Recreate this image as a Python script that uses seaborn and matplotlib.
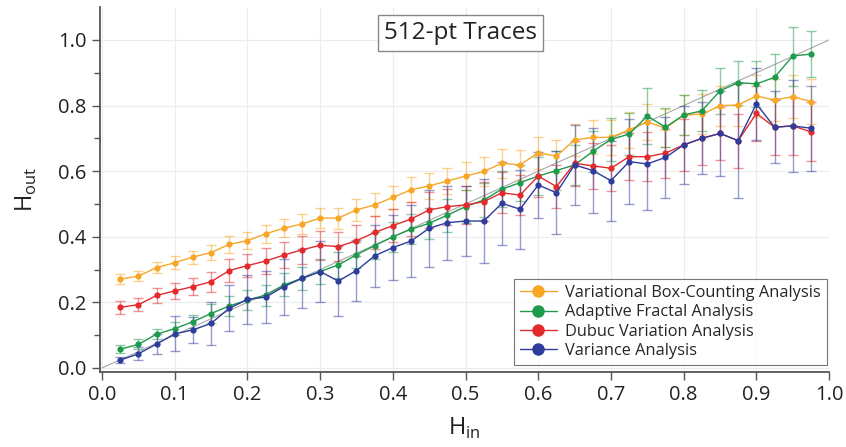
import numpy as np
import pandas as pd
import matplotlib
matplotlib.use("Agg")
import matplotlib.pyplot as plt
import seaborn as sns
from matplotlib.lines import Line2D

h_in = [0.025, 0.05, 0.075, 0.1, 0.125, 0.15, 0.175, 0.2, 0.225, 0.25,
        0.275, 0.3, 0.325, 0.35, 0.375, 0.4, 0.425, 0.45, 0.475, 0.5,
        0.525, 0.55, 0.575, 0.6, 0.625, 0.65, 0.675, 0.7, 0.725, 0.75,
        0.775, 0.8, 0.825, 0.85, 0.875, 0.9, 0.925, 0.95, 0.975]

vbca = [0.271, 0.280, 0.306, 0.321, 0.338, 0.352, 0.377, 0.388, 0.409, 0.426,
        0.439, 0.457, 0.457, 0.482, 0.497, 0.520, 0.543, 0.555, 0.570, 0.585,
        0.599, 0.624, 0.619, 0.656, 0.646, 0.695, 0.703, 0.703, 0.726, 0.750,
        0.731, 0.771, 0.774, 0.799, 0.802, 0.829, 0.817, 0.827, 0.812]
vbca_err = [0.015, 0.015, 0.018, 0.02, 0.02, 0.022, 0.025, 0.025, 0.027, 0.028,
            0.03, 0.03, 0.032, 0.033, 0.035, 0.036, 0.038, 0.04, 0.04, 0.042,
            0.044, 0.045, 0.046, 0.048, 0.05, 0.05, 0.052, 0.054, 0.055, 0.056,
            0.058, 0.06, 0.06, 0.062, 0.063, 0.065, 0.065, 0.066, 0.068]

afa = [0.057, 0.072, 0.103, 0.120, 0.141, 0.166, 0.189, 0.207, 0.222, 0.253,
       0.273, 0.294, 0.314, 0.345, 0.373, 0.400, 0.423, 0.441, 0.466, 0.492,
       0.512, 0.545, 0.565, 0.585, 0.602, 0.619, 0.660, 0.697, 0.713, 0.768,
       0.734, 0.771, 0.784, 0.845, 0.870, 0.866, 0.886, 0.951, 0.957]
afa_err = [0.012, 0.015, 0.015, 0.02, 0.02, 0.03, 0.03, 0.03, 0.032, 0.035,
           0.035, 0.038, 0.04, 0.04, 0.042, 0.045, 0.045, 0.048, 0.05, 0.05,
           0.052, 0.055, 0.055, 0.058, 0.06, 0.06, 0.062, 0.065, 0.065, 0.085,
           0.06, 0.06, 0.062, 0.07, 0.067, 0.07, 0.07, 0.09, 0.07]

dva = [0.185, 0.193, 0.221, 0.235, 0.248, 0.263, 0.297, 0.312, 0.326, 0.344,
       0.360, 0.374, 0.370, 0.388, 0.413, 0.434, 0.454, 0.482, 0.492, 0.497,
       0.507, 0.534, 0.527, 0.585, 0.553, 0.624, 0.616, 0.609, 0.644, 0.644,
       0.655, 0.680, 0.700, 0.715, 0.693, 0.776, 0.734, 0.738, 0.720]
dva_err = [0.02, 0.02, 0.022, 0.025, 0.025, 0.03, 0.035, 0.035, 0.04, 0.04,
           0.042, 0.045, 0.045, 0.048, 0.05, 0.05, 0.052, 0.055, 0.055, 0.058,
           0.06, 0.062, 0.062, 0.065, 0.065, 0.068, 0.07, 0.07, 0.072, 0.075,
           0.075, 0.078, 0.08, 0.08, 0.082, 0.085, 0.085, 0.088, 0.09]

va = [0.024, 0.043, 0.073, 0.104, 0.116, 0.136, 0.182, 0.209, 0.216, 0.248,
      0.273, 0.294, 0.265, 0.297, 0.342, 0.367, 0.387, 0.426, 0.443, 0.448,
      0.448, 0.502, 0.484, 0.558, 0.534, 0.619, 0.602, 0.571, 0.629, 0.622,
      0.642, 0.680, 0.700, 0.715, 0.693, 0.805, 0.734, 0.738, 0.731]
va_err = [0.01, 0.02, 0.03, 0.053, 0.04, 0.065, 0.07, 0.075, 0.08, 0.085,
          0.09, 0.094, 0.107, 0.094, 0.095, 0.1, 0.11, 0.117, 0.113, 0.107,
          0.127, 0.127, 0.12, 0.1, 0.126, 0.122, 0.13, 0.122, 0.13, 0.14,
          0.124, 0.12, 0.11, 0.13, 0.176, 0.11, 0.11, 0.14, 0.13]

series_names = ["Variational Box-Counting Analysis", "Adaptive Fractal Analysis",
                "Dubuc Variation Analysis", "Variance Analysis"]
colors = ["#F7A626", "#1E9A4C", "#E42A2C", "#2E3C9C"]

sns.set_theme(style="white")
plt.rcParams['font.family'] = ['Open Sans', 'DejaVu Sans']

fig = plt.figure(figsize=(8.46, 4.47), dpi=100)
ax = fig.add_axes([0.118, 0.168, 0.862, 0.816])

ax.set_axisbelow(True)
ax.grid(True, which="major", color="#ECECEC", linewidth=0.8)

ax.plot([0, 1], [0, 1], color="#A8A8A8", linewidth=0.8, zorder=1)

vals = [vbca, afa, dva, va]
errs = [vbca_err, afa_err, dva_err, va_err]
frames = []
for name, v in zip(series_names, vals):
    frames.append(pd.DataFrame({"Hin": h_in, "Hout": v, "method": name}))
df = pd.concat(frames, ignore_index=True)

for i, (name, v, e, c) in enumerate(zip(series_names, vals, errs, colors)):
    ax.errorbar(h_in, v, yerr=e, fmt="none", ecolor=c, alpha=0.5,
                elinewidth=1.0, capsize=3.5, capthick=1.0, zorder=2 + i)

sns.lineplot(data=df, x="Hin", y="Hout", hue="method", palette=colors,
             hue_order=series_names, marker="o", markersize=4.5,
             markeredgewidth=0, linewidth=1.0, ax=ax, legend=False,
             estimator=None, sort=False, zorder=10)

handles = [Line2D([0], [0], color=c, marker="o", markersize=9, linewidth=1.0,
                  markeredgewidth=0) for c in colors]
leg = ax.legend(handles, series_names, loc="lower right", fontsize=11.8,
                frameon=True, fancybox=False, edgecolor="#555555",
                handlelength=2.3, handletextpad=0.5, labelspacing=0.2,
                borderpad=0.35, borderaxespad=0.0,
                bbox_to_anchor=(0.997, 0.02))
leg.get_frame().set_linewidth(0.8)

ax.set_xlim(-0.003, 1.0)
ax.set_ylim(-0.012, 1.1)
ax.set_xticks(np.arange(0, 1.01, 0.1))
ax.set_yticks(np.arange(0, 1.01, 0.2))
ax.set_yticks(np.arange(0.1, 1.01, 0.2), minor=True)
ax.xaxis.set_major_formatter(matplotlib.ticker.FormatStrFormatter("%.1f"))
ax.yaxis.set_major_formatter(matplotlib.ticker.FormatStrFormatter("%.1f"))
ax.tick_params(axis="both", which="major", direction="out", length=6,
               width=1, color="#555555", labelsize=14.5, labelcolor="#222222",
               bottom=True, left=True)
ax.tick_params(axis="y", which="minor", direction="out", length=4,
               width=1, color="#555555", left=True)

for s in ["top", "right"]:
    ax.spines[s].set_visible(False)
for s in ["left", "bottom"]:
    ax.spines[s].set_color("#555555")
    ax.spines[s].set_linewidth(1.3)

ax.set_xlabel(r"H$_\mathregular{in}$", fontsize=17, color="#222222", labelpad=8)
ax.set_ylabel(r"H$_\mathregular{out}$", fontsize=17, color="#222222", labelpad=14)

ax.text(0.494, 0.93, "512-pt Traces", transform=ax.transAxes, fontsize=17.5,
        ha="center", va="center", color="#222222",
        bbox=dict(boxstyle="square,pad=0.25", facecolor="white",
                  edgecolor="#888888", linewidth=1.0))

fig.savefig("out.png", dpi=100)
